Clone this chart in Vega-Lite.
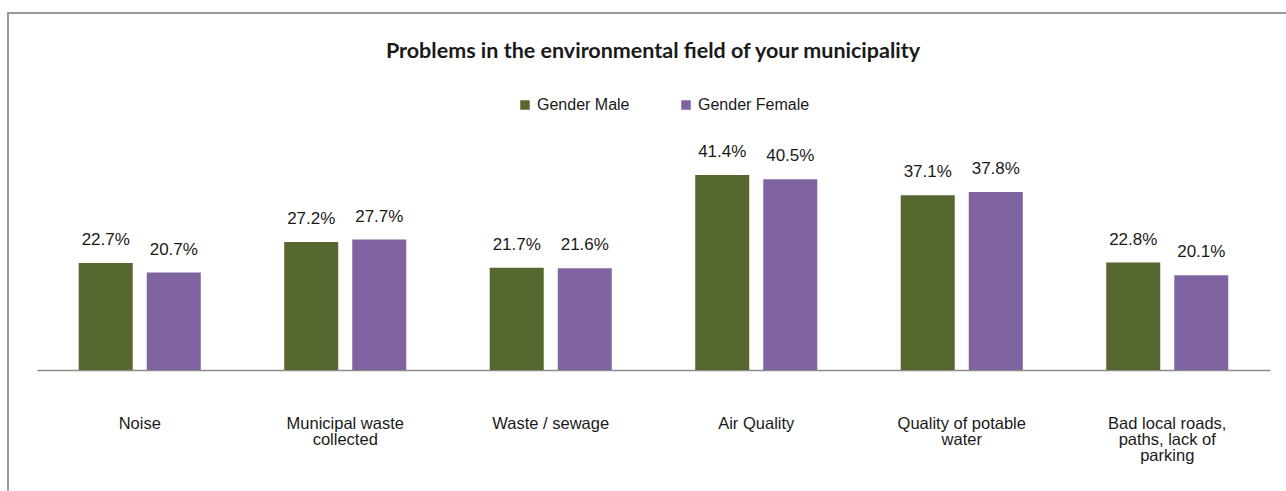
{
  "$schema": "https://vega.github.io/schema/vega-lite/v6.json",
  "width": 1290,
  "height": 490,
  "autosize": "none",
  "padding": {"left": 8, "top": 13, "right": 0, "bottom": 0},
  "background": "white",
  "config": {
    "view": {"stroke": "#9a9a9a", "strokeWidth": 2},
    "font": "Liberation Sans"
  },
  "title": {
    "text": "Problems in the environmental field of your municipality",
    "font": "Lato",
    "fontSize": 21.5,
    "fontWeight": "bold",
    "color": "#1a1a1a",
    "anchor": "middle",
    "frame": "group",
    "orient": "top",
    "baseline": "middle",
    "offset": -60
  },
  "data": {
    "values": [
      {"category": "Noise", "gender": "Gender Male", "value": 0.227},
      {"category": "Noise", "gender": "Gender Female", "value": 0.207},
      {"category": "Municipal waste collected", "gender": "Gender Male", "value": 0.272},
      {"category": "Municipal waste collected", "gender": "Gender Female", "value": 0.277},
      {"category": "Waste  / sewage", "gender": "Gender Male", "value": 0.217},
      {"category": "Waste  / sewage", "gender": "Gender Female", "value": 0.216},
      {"category": "Air Quality", "gender": "Gender Male", "value": 0.414},
      {"category": "Air Quality", "gender": "Gender Female", "value": 0.405},
      {"category": "Quality of potable water", "gender": "Gender Male", "value": 0.371},
      {"category": "Quality of potable water", "gender": "Gender Female", "value": 0.378},
      {"category": "Bad local roads, paths, lack of parking", "gender": "Gender Male", "value": 0.228},
      {"category": "Bad local roads, paths, lack of parking", "gender": "Gender Female", "value": 0.201}
    ]
  },
  "encoding": {
    "x": {
      "field": "category",
      "type": "nominal",
      "sort": null,
      "scale": {"range": [29, 1262], "paddingInner": 0.406, "paddingOuter": 0.203},
      "axis": {
        "title": null,
        "orient": "bottom",
        "offset": -133,
        "domainColor": "#8c8c8c",
        "domainWidth": 1.5,
        "ticks": false,
        "tickSize": 0,
        "grid": false,
        "labelAngle": 0,
        "labelAlign": "center",
        "labelBaseline": "top",
        "labelPadding": 45,
        "labelFont": "Liberation Sans",
        "labelFontSize": 16.5,
        "labelLineHeight": 16,
        "labelColor": "#1a1a1a",
        "labelLimit": 0,
        "labelOverlap": false,
        "labelExpr": "datum.value == 'Municipal waste collected' ? ['Municipal waste', 'collected'] : datum.value == 'Quality of potable water' ? ['Quality of potable', 'water'] : datum.value == 'Bad local roads, paths, lack of parking' ? ['Bad local roads,', 'paths, lack of', 'parking'] : datum.label"
      }
    },
    "xOffset": {
      "field": "gender",
      "type": "nominal",
      "sort": ["Gender Male", "Gender Female"],
      "scale": {"paddingInner": 0.206, "paddingOuter": 0}
    },
    "y": {
      "field": "value",
      "type": "quantitative",
      "scale": {"domain": [0, 0.5], "range": [357, 121.5], "nice": false, "zero": true},
      "axis": null
    }
  },
  "layer": [
    {
      "mark": {"type": "bar"},
      "encoding": {
        "color": {
          "field": "gender",
          "type": "nominal",
          "sort": ["Gender Male", "Gender Female"],
          "scale": {"domain": ["Gender Male", "Gender Female"], "range": ["#56682f", "#8064a2"]},
          "legend": {
            "title": null,
            "orient": "none",
            "legendX": 509,
            "legendY": 84,
            "direction": "horizontal",
            "columns": 2,
            "columnPadding": 48,
            "symbolType": "square",
            "symbolSize": 90,
            "symbolStrokeWidth": 0,
            "labelFont": "Liberation Sans",
            "labelFontSize": 16,
            "labelColor": "#1a1a1a",
            "labelOffset": 4
          }
        }
      }
    },
    {
      "mark": {"type": "text", "baseline": "middle", "dy": -23, "fontSize": 17, "font": "Liberation Sans", "color": "#1a1a1a"},
      "encoding": {
        "text": {"field": "value", "type": "quantitative", "format": ".1%"}
      }
    }
  ]
}
